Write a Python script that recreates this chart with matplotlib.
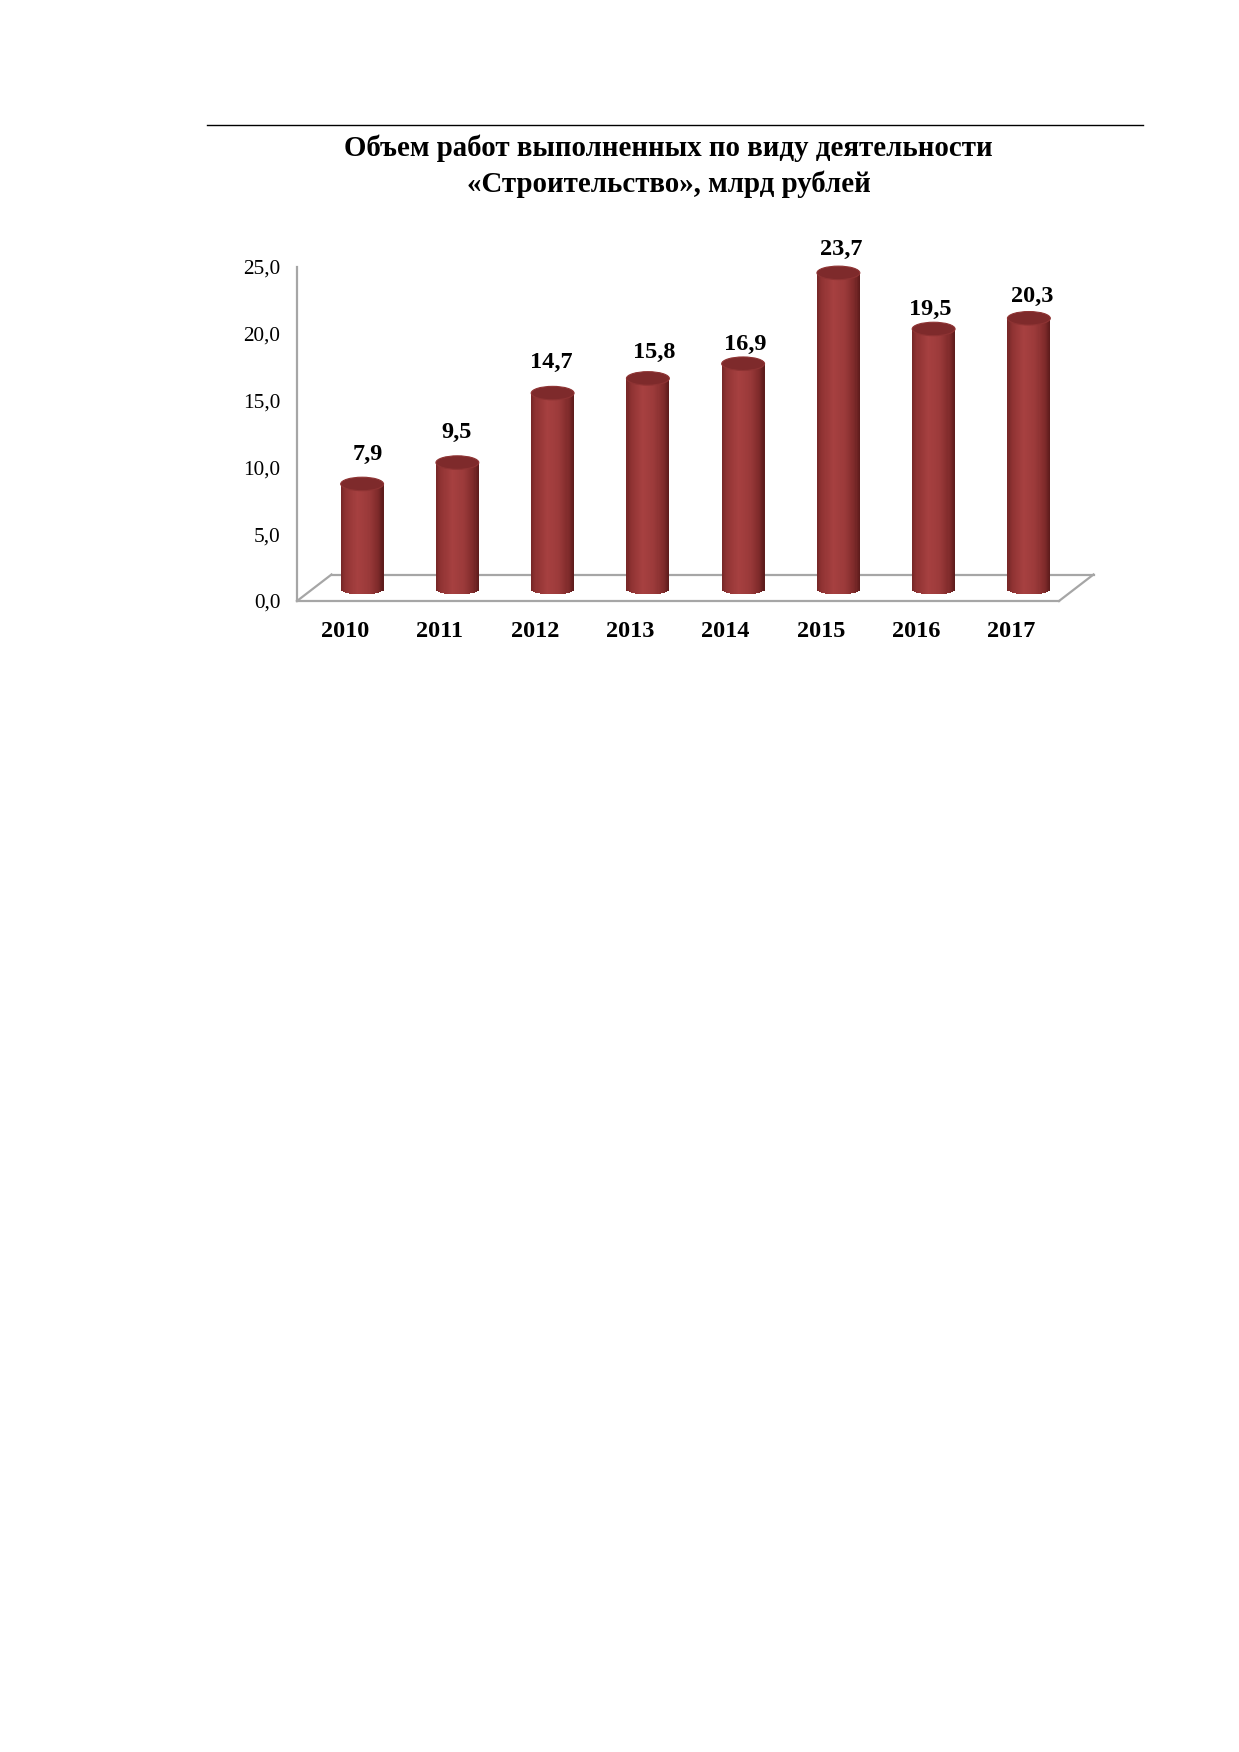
import matplotlib
matplotlib.use('Agg')
import matplotlib.pyplot as plt
import numpy as np
from matplotlib.patches import Ellipse
from matplotlib.lines import Line2D
from matplotlib.transforms import ScaledTranslation
from matplotlib.colors import LinearSegmentedColormap

# ---------------- data ----------------
years = ['2010', '2011', '2012', '2013', '2014', '2015', '2016', '2017']
values = [7.9, 9.5, 14.7, 15.8, 16.9, 23.7, 19.5, 20.3]
value_labels = ['7,9', '9,5', '14,7', '15,8', '16,9', '23,7', '19,5', '20,3']
y_ticks = [0, 5, 10, 15, 20, 25]
y_tick_labels = ['0,0', '5,0', '10,0', '15,0', '20,0', '25,0']
title_lines = ['Объем работ выполненных по виду деятельности',
               '«Строительство», млрд рублей']

# label placement offsets (pixels) as drawn in the original
label_dx = [6, -1, -1, 6, 2, 3, -3, 3]
label_dy = [30, 30, 31, 26, 19, 23, 20, 22]

W, H = 1239, 1752
DPI = 100
fig = plt.figure(figsize=(W / DPI, H / DPI), dpi=DPI)
fig.patch.set_facecolor('white')

SERIF = ['Liberation Serif', 'DejaVu Serif']
GREY = '#a6a6a6'


def rect(x0, y0, x1, y1):
    return [x0 / W, 1 - y1 / H, (x1 - x0) / W, (y1 - y0) / H]


def off(dx, dy):
    return ScaledTranslation(dx / DPI, dy / DPI, fig.dpi_scale_trans)


# rule line and title
fig.add_artist(Line2D([207 / W, 1143 / W], [1 - 125 / H, 1 - 125 / H],
                      transform=fig.transFigure, color='black', lw=1.0))
fig.text(668 / W, 1 - 155.5 / H, title_lines[0], ha='center', va='baseline',
         fontsize=20.8, fontweight='bold', family=SERIF)
fig.text(669 / W, 1 - 192 / H, title_lines[1], ha='center', va='baseline',
         fontsize=20.8, fontweight='bold', family=SERIF)

# axes (front plane)
ax = fig.add_axes(rect(297, 267, 1059, 601))
ax.set_xlim(-0.5, len(years) - 0.5)
ax.set_ylim(0, 25)
ax.patch.set_visible(False)
for s in ['top', 'right']:
    ax.spines[s].set_visible(False)
for s in ['left', 'bottom']:
    ax.spines[s].set_color(GREY)
    ax.spines[s].set_linewidth(1.6)

ax.set_yticks(y_ticks)
ax.set_yticklabels(y_tick_labels, family=SERIF, fontsize=15.3)
ax.tick_params(axis='y', length=0, pad=12)
ax.set_xticks(range(len(years)))
ax.set_xticklabels(years, family=SERIF, fontsize=17.5, fontweight='bold')
ax.tick_params(axis='x', length=0, pad=14.5)

# floor (3D depth)
depth_px = (34.5, 26.5)
back_t = ax.transData + off(*depth_px)
x0, x1 = ax.get_xlim()
ax.plot([x0, x1], [0, 0], transform=back_t, color=GREY, lw=1.6,
        clip_on=False, zorder=1)
ddx = depth_px[0] * (x1 - x0) / (1059 - 297)
ddy = depth_px[1] * 25 / (601 - 267)
ax.plot([x0, x0 + ddx], [0, ddy], color=GREY, lw=1.6, clip_on=False, zorder=1)
ax.plot([x1, x1 + ddx], [0, ddy], color=GREY, lw=1.6, clip_on=False, zorder=1)

# cylinders
bar_t = ax.transData + off(17.5, 11.5)
xpos = np.arange(len(years))
vals = np.array(values)
bw = 0.45
cap_h = 13.5 * 25 / (601 - 267)      # ellipse height in value units
bot_b = 5.0 * 25 / (601 - 267)       # half height of bottom curve

cmap = LinearSegmentedColormap.from_list('cyl', [
    (0.0, '#742626'), (0.10, '#8e3232'), (0.38, '#a64040'),
    (0.65, '#9b3a3a'), (0.88, '#7e2a2a'), (1.0, '#5a1a1a')])
n = 40
for k in range(n):
    u = (k + 0.5) / n
    uu = 2 * u - 1
    sag = bot_b * np.sqrt(max(0.0, 1 - uu ** 2))
    ax.bar(xpos - bw / 2 + u * bw, vals + sag, bottom=-sag,
           width=bw / n * 1.15, color=cmap(u), linewidth=0,
           transform=bar_t, clip_on=False, zorder=3)

for i, v in enumerate(values):
    ax.add_patch(Ellipse((xpos[i], v), bw, cap_h, facecolor='#7e2a2b',
                         edgecolor='#8e3333', lw=0.8, transform=bar_t,
                         clip_on=False, zorder=4))
    ax.annotate(value_labels[i], xy=(xpos[i], v), xycoords=bar_t,
                xytext=(label_dx[i] * 0.72, label_dy[i] * 0.72),
                textcoords='offset points', ha='center', va='center',
                fontsize=17.5, fontweight='bold', family=SERIF,
                annotation_clip=False, zorder=5)

fig.savefig('out.png', dpi=DPI, facecolor='white')
